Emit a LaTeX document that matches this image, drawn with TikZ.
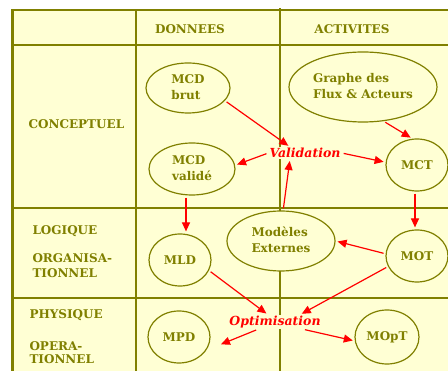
\documentclass[tikz,border=0pt]{standalone}
\usepackage{fontspec}
\setmainfont{DejaVu Serif}
\usetikzlibrary{arrows.meta,shapes.geometric}
\definecolor{olivetxt}{HTML}{808000}
\definecolor{paper}{HTML}{FFFFD4}

\begin{document}
\begin{tikzpicture}[x=1pt, y=-1pt,
    every node/.style={font=\fontsize{12}{16}\selectfont\bfseries, text=olivetxt},
    model/.style={ellipse, draw=olivetxt, line width=1.2pt, fill=paper, inner sep=0pt},
    rowlab/.style={anchor=west, align=left},
    flowlab/.style={text=red, font=\fontsize{12.5}{14}\selectfont\bfseries\itshape, fill=paper, inner sep=1pt},
    flow/.style={red, line width=1.2pt, -{Triangle[length=9pt,width=8pt]}, shorten >=2pt, shorten <=2pt}]

    \useasboundingbox (0,0) rectangle (448,371);

    % Table
    \fill[paper] (12,10) rectangle (448,371);
    \draw[olivetxt, line width=1.2pt] (12,10) -- (448,10);
    \draw[olivetxt, line width=1.2pt] (12,45) -- (448,45);
    \draw[olivetxt, line width=1.2pt] (12,208) -- (448,208);
    \draw[olivetxt, line width=1.2pt] (12,298) -- (448,298);
    \draw[olivetxt, line width=2.4pt] (12.5,9.4) -- (12.5,371);
    \draw[olivetxt, line width=1.2pt] (136,10) -- (136,371);
    \draw[olivetxt, line width=1.2pt] (280,8) -- (280,371);

    % Column and row headings
    \node (donnees) at (190,29) {DONNEES};
    \node (activ) at (352,29) {ACTIVITES};
    \node[rowlab] (concept) at (25,124) {CONCEPTUEL};
    \node[rowlab] (logique) at (29,231) {LOGIQUE};
    \node[rowlab, font=\fontsize{12}{14.5}\selectfont\bfseries] (organis) at (29,265.5) {ORGANISA-\\TIONNEL};
    \node[rowlab] (physique) at (26,315) {PHYSIQUE};
    \node[rowlab, font=\fontsize{12}{13.5}\selectfont\bfseries] (operat) at (26,352.5) {OPERA-\\TIONNEL};

    % Models
    \node[model, minimum width=84, minimum height=50] (mcdb) at (188,88) {\begin{tabular}{@{}l@{}}MCD\\brut\end{tabular}\hspace{8pt}};
    \node[model, minimum width=148, minimum height=70] (graphe) at (363,87) {\begin{tabular}{@{}l@{}}Graphe des\\Flux \& Acteurs\end{tabular}\hspace{4pt}};
    \node[model, minimum width=86, minimum height=52] (mcdv) at (192,169) {\begin{tabular}{@{}l@{}}MCD\\validé\end{tabular}\hspace{4pt}};
    \node[model, minimum width=62, minimum height=52] (mct) at (417,165) {MCT};
    \node[model, minimum width=108, minimum height=60] (modext) at (281,241) {\begin{tabular}{@{}l@{}}Modèles\\Externes\end{tabular}\hspace{6pt}};
    \node[model, minimum width=62, minimum height=52] (mld) at (180,260) {MLD};
    \node[model, minimum width=62, minimum height=52] (mot) at (417,256) {MOT};
    \node[model, minimum width=62, minimum height=52] (mpd) at (179,337) {MPD};
    \node[model, minimum width=64, minimum height=54] (mopt) at (387,337) {MOpT};

    % Steps
    \node[flowlab] (valid) at (305,153) {Validation};
    \node[flowlab] (optim) at (275,322) {Optimisation};

    % Arrows
    \draw[flow] (mcdb.-19) -- ([xshift=-15pt]valid.north);
    \draw[flow] (graphe.-59) -- (mct.100);
    \draw[flow] (valid.west) -- (mcdv.5);
    \draw[flow] (valid.east) -- (mct.175);
    \draw[flow] (modext.86) -- ([xshift=-15pt]valid.south);
    \draw[flow] ([xshift=-6pt]mcdv.south) -- ([xshift=6pt]mld.north);
    \draw[flow] ([xshift=-2pt]mct.south) -- ([xshift=-2pt]mot.north);
    \draw[flow] (mot.176) -- (modext.east);
    \draw[flow] (mld.-20) -- ([xshift=-7pt]optim.north);
    \draw[flow] (mot.200) -- ([xshift=25pt]optim.north);
    \draw[flow] ([xshift=-17pt]optim.south) -- ([xshift=10pt]mpd.-15);
    \draw[flow] ([xshift=28pt]optim.south) -- (mopt.187);

\end{tikzpicture}
\end{document}
